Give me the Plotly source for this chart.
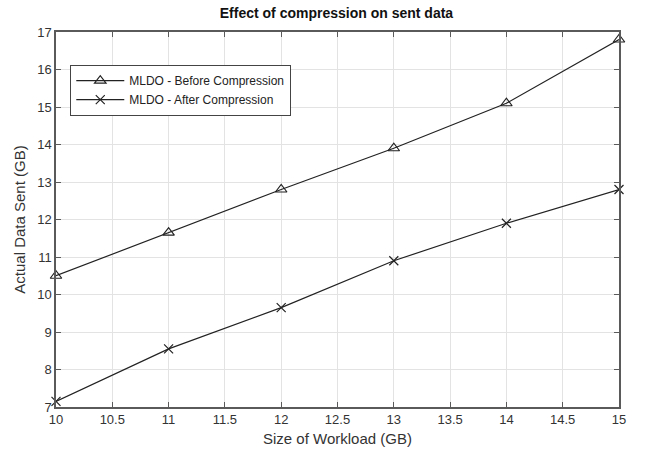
import plotly.graph_objects as go

workload = [10, 11, 12, 13, 14, 15]
before = [10.5, 11.65, 12.8, 13.9, 15.1, 16.8]
after = [7.15, 8.55, 9.65, 10.9, 11.9, 12.8]
x_ticks = [10, 10.5, 11, 11.5, 12, 12.5, 13, 13.5, 14, 14.5, 15]
y_ticks = [7, 8, 9, 10, 11, 12, 13, 14, 15, 16, 17]

fig = go.Figure()
fig.add_trace(go.Scatter(
    x=workload, y=before, mode="lines+markers", name="MLDO - Before Compression",
    line=dict(color="#222222", width=1.2),
    marker=dict(symbol="triangle-up-open", size=10, color="#222222", line=dict(width=1.2)),
    cliponaxis=False))
fig.add_trace(go.Scatter(
    x=workload, y=after, mode="lines+markers", name="MLDO - After Compression",
    line=dict(color="#222222", width=1.2),
    marker=dict(symbol="x-thin-open", size=9, color="#222222", line=dict(width=1.2, color="#222222")),
    cliponaxis=False))

axis_common = dict(
    showgrid=True, gridcolor="#e3e3e3", gridwidth=1,
    showline=True, linecolor="#5a5a5a", linewidth=1.5, mirror="ticks",
    ticks="inside", ticklen=5, tickcolor="#5a5a5a",
    tickfont=dict(family="Liberation Sans, Arial", size=13, color="#333333"),
    zeroline=False,
)
fig.update_xaxes(range=[10, 15], tickvals=x_ticks, ticktext=[f"{v:g}" for v in x_ticks],
                 title=dict(text="Size of Workload (GB)", font=dict(family="Liberation Sans, Arial", size=15, color="#333333"), standoff=7),
                 **axis_common)
fig.update_yaxes(range=[7, 17], tickvals=y_ticks, ticktext=[str(v) for v in y_ticks],
                 title=dict(text="Actual Data Sent (GB)", font=dict(family="Liberation Sans, Arial", size=15, color="#333333"), standoff=8),
                 **axis_common)

fig.update_layout(
    width=647, height=456,
    margin=dict(l=56, r=28, t=32, b=49),
    paper_bgcolor="white", plot_bgcolor="white",
    title=dict(text="<b>Effect of compression on sent data</b>", x=0.52, xanchor="center", y=0.972, yanchor="middle",
               font=dict(family="Liberation Sans, Arial", size=14, color="#111111")),
    legend=dict(x=0.025, y=0.912, xanchor="left", yanchor="top",
                bgcolor="white", bordercolor="#444444", borderwidth=1.2,
                font=dict(family="Liberation Sans, Arial", size=12, color="#222222"),
                tracegroupgap=0, itemwidth=48),
    showlegend=True,
)

fig.write_html("out.html")
